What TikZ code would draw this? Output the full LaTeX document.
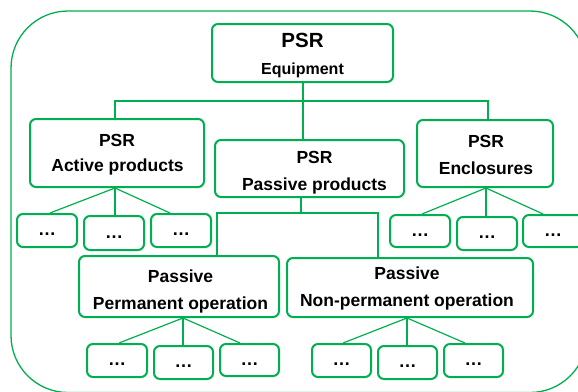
\documentclass[tikz,border=0pt]{standalone}
\usepackage{fontspec}
\setmainfont{Liberation Sans}
\usetikzlibrary{calc}
\definecolor{psrgreen}{RGB}{0,176,80}
\tikzset{
  box/.style={draw=psrgreen, line width=2pt, rounded corners=6pt, fill=white, inner sep=0pt},
  dotbox/.style={box, font=\fontsize{18}{18}\selectfont\bfseries, text height=10pt, text depth=0pt},
  tl/.style={anchor=base, inner sep=0pt, font=\fontsize{17.5}{20}\selectfont\bfseries},
  conn/.style={draw=psrgreen, line width=1.2pt},
  frame/.style={draw=psrgreen, line width=1.3pt, rounded corners=57pt}
}
\begin{document}
\begin{tikzpicture}[x=1pt,y=-1pt]
\useasboundingbox (0,0) rectangle (578,391);
\fill[white] (0,0) rectangle (578,391);
\clip (0,0) rectangle (578,391);
\draw[frame] (11,11) rectangle (587,392.5);

% main boxes
\node[box, minimum width=181, minimum height=58] (EQ) at (302.5,53) {};
\node[box, minimum width=174, minimum height=68] (AC) at (117,153) {};
\node[box, minimum width=189, minimum height=57] (PP) at (309.5,168.5) {};
\node[box, minimum width=136, minimum height=67] (EN) at (485,153.5) {};
\node[box, minimum width=200, minimum height=61] (PO) at (179,286.5) {};
\node[box, minimum width=246, minimum height=59] (NP) at (410,287.5) {};

% texts
\node[tl, font=\fontsize{20.5}{22}\selectfont\bfseries] (EQa) at (302.5,47.7) {PSR};
\node[tl, font=\fontsize{16}{18}\selectfont\bfseries] (EQb) at (302.5,74) {Equipment};
\node[tl] (ACa) at (117,146) {PSR};
\node[tl] (ACb) at (117.5,171.7) {Active products};
\node[tl] (PPa) at (314.5,163.3) {PSR};
\node[tl] (PPb) at (314.5,190) {Passive products};
\node[tl] (ENa) at (486,147.7) {PSR};
\node[tl] (ENb) at (486,174) {Enclosures};
\node[tl] (POa) at (180.5,282.3) {Passive};
\node[tl] (POb) at (180.5,309.3) {Permanent operation};
\node[tl] (NPa) at (407,279.3) {Passive};
\node[tl] (NPb) at (407,306.7) {Non-permanent operation};

% leaf boxes
\node[dotbox, minimum width=60, minimum height=33] (A1) at (47,230.5) {…};
\node[dotbox, minimum width=60, minimum height=34] (A2) at (114,233) {…};
\node[dotbox, minimum width=60, minimum height=33] (A3) at (181,230.5) {…};
\node[dotbox, minimum width=60, minimum height=32] (E1) at (420,231) {…};
\node[dotbox, minimum width=60, minimum height=33] (E2) at (487,233.5) {…};
\node[dotbox, minimum width=60, minimum height=32] (E3) at (553,231) {…};
\node[dotbox, minimum width=60, minimum height=33] (P1) at (117,360.5) {…};
\node[dotbox, minimum width=59, minimum height=33] (P2) at (183.5,362.5) {…};
\node[dotbox, minimum width=59, minimum height=32] (P3) at (249.5,360) {…};
\node[dotbox, minimum width=59, minimum height=33] (N1) at (341.5,360.5) {…};
\node[dotbox, minimum width=59, minimum height=33] (N2) at (407.5,362.5) {…};
\node[dotbox, minimum width=59, minimum height=33] (N3) at (473.5,360.5) {…};

% top level connectors
\coordinate (bus) at (303,101);
\draw[conn] (bus |- EQ.south) -- (bus |- PP.north);
\draw[conn] ($(AC.north)+(-2,0)$) |- (bus) -| ($(EN.north)+(3,0)$);

% passive split
\coordinate (pbus) at (301,213);
\coordinate (pl) at (217,213);
\coordinate (pr) at (378,213);
\draw[conn] (pbus |- PP.south) -- (pbus);
\draw[conn] (pl |- PO.north) -- (pl) -- (pr) -- (pr |- NP.north);

% fans
\coordinate (ac) at ($(AC.south)+(-2,0)$);
\draw[conn] ($(A1.north)+(3,0)$) -- (ac) -- ($(A3.north)+(-11,0)$);
\draw[conn] (ac) -- (ac |- A2.north);
\coordinate (en) at ($(EN.south)+(1,0)$);
\draw[conn] ($(E1.north)+(2,0)$) -- (en) -- ($(E3.north)+(-10,0)$);
\draw[conn] (en) -- (en |- E2.north);
\coordinate (po) at ($(PO.south)+(4,0)$);
\draw[conn] ($(P1.north)+(2,0)$) -- (po) -- ($(P3.north)+(-9.5,0)$);
\draw[conn] (po) -- (po |- P2.north);
\coordinate (np) at ($(NP.south)+(-3,0)$);
\draw[conn] ($(N1.north)+(1.5,0)$) -- (np) -- ($(N3.north)+(-8.5,0)$);
\draw[conn] (np) -- (np |- N2.north);
\end{tikzpicture}
\end{document}
